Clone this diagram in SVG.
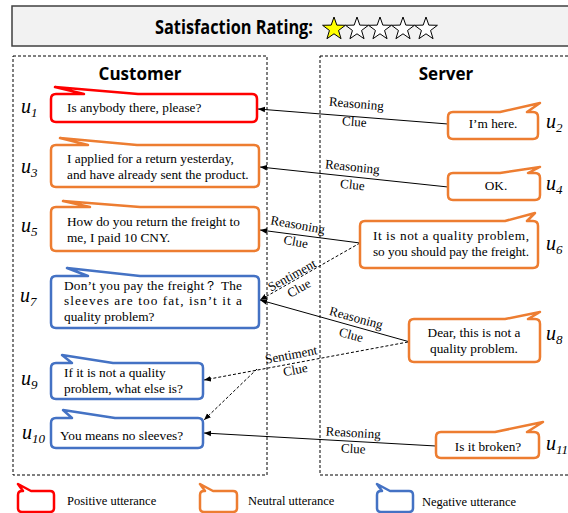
<svg xmlns="http://www.w3.org/2000/svg" width="568" height="513" viewBox="0 0 568 513">
<style>
.t{font-family:"Liberation Serif","Times New Roman",serif;font-size:13.3px;fill:#000}
.lg{font-family:"Liberation Serif","Times New Roman",serif;font-size:12.5px;fill:#000}
.lb{font-family:"Liberation Serif","Times New Roman",serif;font-size:13px;fill:#000;text-anchor:middle}
.hd{font-family:"Open Sans","Liberation Sans",sans-serif;font-weight:bold;fill:#000}
.u{font-family:"Liberation Serif","Times New Roman",serif;font-style:italic;font-size:20px;fill:#000}
.us{font-size:13px}
.pos{fill:#fff;stroke:#FF0000;stroke-width:2.5;stroke-linejoin:round}
.neu{fill:#fff;stroke:#ED7D31;stroke-width:2.5;stroke-linejoin:round}
.neg{fill:#fff;stroke:#4472C4;stroke-width:2.5;stroke-linejoin:round}
.pan{fill:none;stroke:#000;stroke-width:1;stroke-dasharray:3,2}
.c{stroke:#000;stroke-width:1;fill:none;marker-end:url(#ah)}
.d{stroke:#000;stroke-width:1;fill:none;stroke-dasharray:3,2;marker-end:url(#ah)}
.star{stroke:#000;stroke-width:1;stroke-linejoin:miter}
</style>
<defs>
<marker id="ah" viewBox="0 0 10 10" refX="10" refY="5" markerWidth="7" markerHeight="7" orient="auto" markerUnits="userSpaceOnUse"><path d="M0,1 L10,5 L0,9 Z" fill="#000"/></marker>
<path id="st" d="M0,-12 L2.82,-3.88 L11.41,-3.71 L4.56,1.48 L7.05,9.71 L0,4.8 L-7.05,9.71 L-4.56,1.48 L-11.41,-3.71 L-2.82,-3.88 Z"/>
</defs>

<g id="title">
<rect x="12" y="6" width="560" height="40" fill="#F2F2F2" stroke="#404040" stroke-width="1.5"/>
<text class="hd" x="155" y="34" font-size="19" textLength="158" lengthAdjust="spacingAndGlyphs">Satisfaction Rating:</text>
<use href="#st" x="334" y="29" fill="#FFFF00" class="star"/>
<use href="#st" x="357" y="29" fill="#fff" class="star"/>
<use href="#st" x="380" y="29" fill="#fff" class="star"/>
<use href="#st" x="403" y="29" fill="#fff" class="star"/>
<use href="#st" x="426" y="29" fill="#fff" class="star"/>
</g>

<g id="panels">
<rect class="pan" x="13" y="56" width="254" height="419"/>
<rect class="pan" x="320" y="56" width="262" height="419"/>
<text class="hd" x="140" y="80" font-size="17" text-anchor="middle">Customer</text>
<text class="hd" x="446" y="80" font-size="17" text-anchor="middle">Server</text>
</g>

<g id="connectors">
<line class="c" x1="448" y1="124" x2="258" y2="109"/>
<line class="c" x1="448" y1="187" x2="260" y2="167"/>
<line class="c" x1="360" y1="243" x2="260" y2="230"/>
<line class="d" x1="360" y1="243" x2="260" y2="300"/>
<line class="c" x1="410" y1="342" x2="260" y2="300"/>
<line class="d" x1="408" y1="342" x2="204" y2="380"/>
<line class="d" x1="257" y1="369" x2="204" y2="420"/>
<line class="c" x1="436" y1="446" x2="204" y2="433"/>
<text class="lb" transform="translate(356,108) rotate(4.5)">Reasoning</text>
<text class="lb" transform="translate(354,126) rotate(4.5)">Clue</text>
<text class="lb" transform="translate(352,171) rotate(6)">Reasoning</text>
<text class="lb" transform="translate(352,189) rotate(6)">Clue</text>
<text class="lb" transform="translate(297,229) rotate(10)">Reasoning</text>
<text class="lb" transform="translate(295,246) rotate(10)">Clue</text>
<text class="lb" transform="translate(294,279) rotate(-29)">Sentiment</text>
<text class="lb" transform="translate(301,292) rotate(-29)">Clue</text>
<text class="lb" transform="translate(355,322) rotate(15.5)">Reasoning</text>
<text class="lb" transform="translate(350,339) rotate(15.5)">Clue</text>
<text class="lb" transform="translate(292,359) rotate(-10.5)">Sentiment</text>
<text class="lb" transform="translate(296,374) rotate(-10.5)">Clue</text>
<text class="lb" transform="translate(353,437) rotate(3.2)">Reasoning</text>
<text class="lb" transform="translate(353,453) rotate(3.2)">Clue</text>
</g>

<g id="u1">
<path class="pos" d="M56,94 L84,94 L55,87 L138,94 L252,94 Q257,94 257,99 L257,117 Q257,122 252,122 L56,122 Q51,122 51,117 L51,99 Q51,94 56,94 Z"/>
<text class="t" x="67" y="112">Is anybody there, please?</text>
<text class="u" x="21" y="113">u<tspan class="us" dy="4">1</tspan></text>
</g>

<g id="u2">
<path class="neu" d="M453,112 L500,112 L540,103 L527,112 L533,112 Q538,112 538,117 L538,134 Q538,139 533,139 L453,139 Q448,139 448,134 L448,117 Q448,112 453,112 Z"/>
<text class="t" x="493" y="128" text-anchor="middle">I’m here.</text>
<text class="u" x="546" y="128">u<tspan class="us" dy="4">2</tspan></text>
</g>

<g id="u3">
<path class="neu" d="M56,145 L88,145 L60,138 L137,145 L254,145 Q259,145 259,150 L259,182 Q259,187 254,187 L56,187 Q51,187 51,182 L51,150 Q51,145 56,145 Z"/>
<text class="t" x="67" y="163">I applied for a return yesterday,</text>
<text class="t" x="67" y="179">and have already sent the product.</text>
<text class="u" x="21" y="173">u<tspan class="us" dy="4">3</tspan></text>
</g>

<g id="u4">
<path class="neu" d="M453,173 L500,173 L540,167 L528,173 L535,173 Q540,173 540,178 L540,195 Q540,200 535,200 L453,200 Q448,200 448,195 L448,178 Q448,173 453,173 Z"/>
<text class="t" x="496" y="190" text-anchor="middle">OK.</text>
<text class="u" x="546" y="190">u<tspan class="us" dy="4">4</tspan></text>
</g>

<g id="u5">
<path class="neu" d="M56,207 L90,207 L63,201 L140,207 L254,207 Q259,207 259,212 L259,246 Q259,251 254,251 L56,251 Q51,251 51,246 L51,212 Q51,207 56,207 Z"/>
<text class="t" x="67" y="226">How do you return the freight to</text>
<text class="t" x="67" y="242">me, I paid 10 CNY.</text>
<text class="u" x="21" y="232">u<tspan class="us" dy="4">5</tspan></text>
</g>

<g id="u6">
<path class="neu" d="M365,221 L505,221 L535,213 L527,221 L533,221 Q538,221 538,226 L538,263 Q538,268 533,268 L365,268 Q360,268 360,263 L360,226 Q360,221 365,221 Z"/>
<text class="t" x="373" y="240" textLength="156" lengthAdjust="spacing">It is not a quality problem,</text>
<text class="t" x="373" y="256" textLength="156" lengthAdjust="spacing">so you should pay the freight.</text>
<text class="u" x="546" y="250">u<tspan class="us" dy="4">6</tspan></text>
</g>

<g id="u7">
<path class="neg" d="M56,276 L88,276 L67,268 L140,276 L254,276 Q259,276 259,281 L259,323 Q259,328 254,328 L56,328 Q51,328 51,323 L51,281 Q51,276 56,276 Z"/>
<text class="t" x="64" y="290" textLength="178" lengthAdjust="spacing">Don’t you pay the freight？ The</text>
<text class="t" x="64" y="305" textLength="178" lengthAdjust="spacing">sleeves are too fat, isn’t it a</text>
<text class="t" x="64" y="321">quality problem?</text>
<text class="u" x="20" y="302">u<tspan class="us" dy="4">7</tspan></text>
</g>

<g id="u8">
<path class="neu" d="M414,319 L505,319 L540,312 L528,319 L535,319 Q540,319 540,324 L540,357 Q540,362 535,362 L414,362 Q409,362 409,357 L409,324 Q409,319 414,319 Z"/>
<text class="t" x="474" y="337" text-anchor="middle">Dear, this is not a</text>
<text class="t" x="474" y="353" text-anchor="middle">quality problem.</text>
<text class="u" x="546" y="340">u<tspan class="us" dy="4">8</tspan></text>
</g>

<g id="u9">
<path class="neg" d="M56,363 L72,363 L62,355 L113,363 L198,363 Q203,363 203,368 L203,394 Q203,399 198,399 L56,399 Q51,399 51,394 L51,368 Q51,363 56,363 Z"/>
<text class="t" x="64" y="377">If it is not a quality</text>
<text class="t" x="64" y="393">problem, what else is?</text>
<text class="u" x="21" y="385">u<tspan class="us" dy="4">9</tspan></text>
</g>

<g id="u10">
<path class="neg" d="M56,418 L72,418 L63,410 L115,418 L198,418 Q203,418 203,423 L203,443 Q203,448 198,448 L56,448 Q51,448 51,443 L51,423 Q51,418 56,418 Z"/>
<text class="t" x="60" y="440">You means no sleeves?</text>
<text class="u" x="22" y="439">u<tspan class="us" dy="4">10</tspan></text>
</g>

<g id="u11">
<path class="neu" d="M441,432 L495,432 L543,422 L527,432 L534,432 Q539,432 539,437 L539,453 Q539,458 534,458 L441,458 Q436,458 436,453 L436,437 Q436,432 441,432 Z"/>
<text class="t" x="488" y="451" text-anchor="middle">Is it broken?</text>
<text class="u" x="546" y="450">u<tspan class="us" dy="4">11</tspan></text>
</g>

<g id="legend">
<path class="pos" d="M22,491 L23,491 L18,484 L31,491 L50,491 Q54,491 54,495 L54,508 Q54,512 50,512 L22,512 Q18,512 18,508 L18,495 Q18,491 22,491 Z"/>
<text class="lg" x="67" y="505">Positive utterance</text>
<path class="neu" d="M204,491 L205,491 L200,484 L213,491 L233,491 Q237,491 237,495 L237,508 Q237,512 233,512 L204,512 Q200,512 200,508 L200,495 Q200,491 204,491 Z"/>
<text class="lg" x="248" y="505">Neutral utterance</text>
<path class="neg" d="M381,491 L382,491 L377,484 L390,491 L409,491 Q413,491 413,495 L413,508 Q413,512 409,512 L381,512 Q377,512 377,508 L377,495 Q377,491 381,491 Z"/>
<text class="lg" x="422" y="506">Negative utterance</text>
</g>
</svg>
